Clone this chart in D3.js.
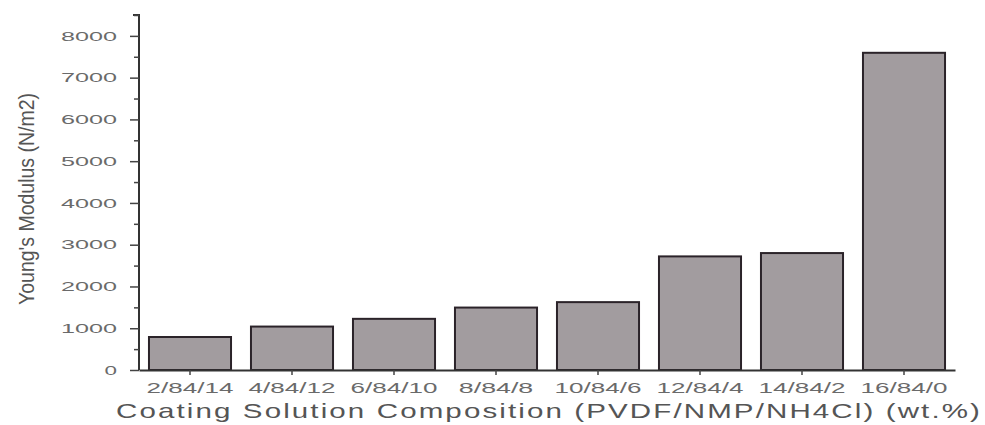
<!DOCTYPE html>
<html>
<head>
<meta charset="utf-8">
<script src="https://cdn.jsdelivr.net/npm/d3@7"></script>
<style>
body{margin:0;background:#fff;}
</style>
</head>
<body>
<svg id="svg" width="985" height="425"></svg>
<script>
// data
let categories=["2/84/14","4/84/12","6/84/10","8/84/8","10/84/6","12/84/4","14/84/2","16/84/0"];
let modulus=[790,1040,1225,1495,1625,2720,2800,7595];
let yTicks=[0,1000,2000,3000,4000,5000,6000,7000,8000];
let yMinor=[500,1500,2500,3500,4500,5500,6500,7500,8500];

let mLeft=139, mRight=955, mTop=15, mBottom=370;
let svg=d3.select("#svg");

let x=d3.scaleBand().domain(categories).range([mLeft,mRight]).paddingInner(0.176).paddingOuter(0.088);
let y=d3.scaleLinear().domain([0,8500]).range([mBottom,mTop]);

// bars
svg.selectAll("rect.bar").data(modulus).enter().append("rect")
    .attr("class","bar")
    .attr("x",(d,i)=>x(categories[i])+1)
    .attr("y",d=>y(d))
    .attr("width",x.bandwidth()-2)
    .attr("height",d=>mBottom-y(d))
    .attr("fill","#a29c9f")
    .attr("stroke","#2b2329")
    .attr("stroke-width",2);

// y axis
let yAxis=d3.axisLeft(y).tickValues(yTicks).tickSize(9).tickFormat(d3.format("d"));
let gy=svg.append("g").attr("transform","translate("+mLeft+",0)").call(yAxis);
gy.select(".domain").attr("stroke","#333").attr("stroke-width",2).attr("d","M-6,"+mTop+"H0V"+mBottom);
gy.selectAll(".tick line").attr("stroke","#444").attr("stroke-width",1.5);
gy.selectAll(".tick text")
    .attr("x",-22)
    .style("font-family","'Liberation Sans',Arial,sans-serif")
    .style("font-size","13px")
    .attr("fill","#6a6a6a")
    .attr("textLength",d=>String(d).length*14.5-2)
    .attr("lengthAdjust","spacingAndGlyphs");
let gm=svg.append("g").attr("transform","translate("+mLeft+",0)").call(d3.axisLeft(y).tickValues(yMinor).tickSize(5).tickFormat(""));
gm.select(".domain").remove();
gm.selectAll(".tick line").attr("stroke","#444").attr("stroke-width",1.5);

// x axis
let xAxis=d3.axisBottom(x).tickSize(5).tickSizeOuter(0);
let gx=svg.append("g").attr("transform","translate(0,"+mBottom+")").call(xAxis);
gx.select(".domain").attr("stroke","#333").attr("stroke-width",2);
gx.selectAll(".tick line").attr("stroke","#444").attr("stroke-width",1.5);
gx.selectAll(".tick text")
    .attr("y",12)
    .style("font-family","'Liberation Sans',Arial,sans-serif")
    .style("font-size","15px")
    .attr("fill","#6a6a6a")
    .attr("textLength",d=>d.length*12.4)
    .attr("lengthAdjust","spacingAndGlyphs");

// axis titles
svg.append("text")
    .attr("x",549).attr("y",418)
    .attr("text-anchor","middle")
    .style("font-family","'Liberation Sans',Arial,sans-serif")
    .style("font-size","21px")
    .style("letter-spacing","1.5px")
    .attr("fill","#555")
    .attr("textLength",866)
    .attr("lengthAdjust","spacingAndGlyphs")
    .text("Coating Solution Composition (PVDF/NMP/NH4Cl) (wt.%)");

svg.append("text")
    .attr("transform","translate(34,199) rotate(-90)")
    .attr("text-anchor","middle")
    .style("font-family","'Liberation Sans Narrow','Liberation Sans',Arial,sans-serif")
    .style("font-size","22px")
    .attr("fill","#555")
    .attr("textLength",212)
    .attr("lengthAdjust","spacingAndGlyphs")
    .text("Young's Modulus (N/m2)");
</script>
</body>
</html>
